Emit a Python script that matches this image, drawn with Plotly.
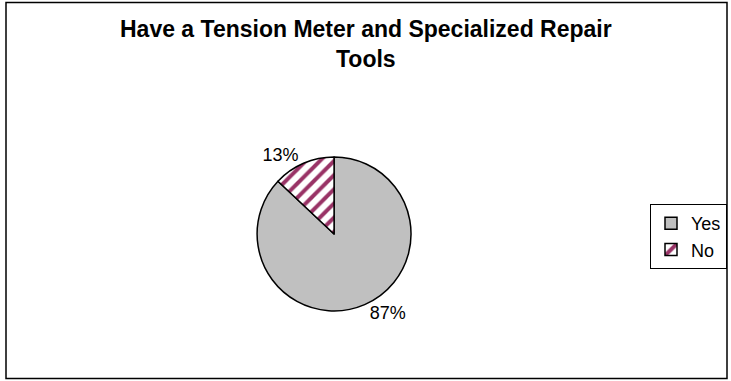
import plotly.graph_objects as go

labels = ["Yes", "No"]
values = [87, 13]
slice_colors = ["#C0C0C0", "#FFFFFF"]
title_text = "<b>Have a Tension Meter and Specialized Repair<br>Tools</b>"

W, H = 731, 381
FONT = "Liberation Sans, Arial, sans-serif"

fig = go.Figure()
fig.add_trace(go.Pie(
    labels=labels,
    values=values,
    sort=False,
    direction="clockwise",
    rotation=0,
    textposition="outside",
    texttemplate="%{percent:.0%}",
    textfont=dict(family=FONT, size=18, color="black"),
    marker=dict(
        colors=slice_colors,
        line=dict(color="black", width=1.5),
        pattern=dict(shape=["", "/"], fgcolor="#993366", bgcolor="white",
                     size=10, solidity=0.4),
    ),
    domain=dict(x=[0.307, 0.607], y=[0.184, 0.588]),
    hoverinfo="skip",
))

fig.update_layout(
    width=W, height=H,
    margin=dict(l=0, r=0, t=0, b=0),
    paper_bgcolor="white",
    plot_bgcolor="white",
    showlegend=True,
    legend=dict(
        x=650 / W, y=1 - 204 / H, xanchor="left", yanchor="top",
        bordercolor="black", borderwidth=1,
        font=dict(family=FONT, size=18, color="black"),
        itemwidth=30,
    ),
    annotations=[dict(
        text=title_text, x=366 / W, y=1 - 14 / H, xref="paper", yref="paper",
        xanchor="center", yanchor="top", showarrow=False,
        font=dict(family=FONT, size=23, color="black"),
    )],
    shapes=[dict(
        type="rect", xref="paper", yref="paper",
        x0=6 / W, x1=727 / W, y0=1 - 378.5 / H, y1=1 - 2.5 / H,
        line=dict(color="black", width=1.5),
    )],
)

fig.write_html(
    "out.html",
    config={"displayModeBar": False},
    post_script="document.body.style.margin='0';document.body.style.overflow='hidden';",
)
